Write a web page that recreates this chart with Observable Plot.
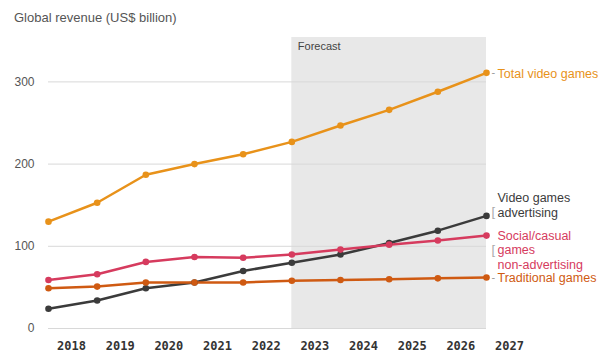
<!DOCTYPE html>
<html>
<head>
<meta charset="utf-8">
<script src="https://cdn.jsdelivr.net/npm/d3@7"></script>
<script src="https://cdn.jsdelivr.net/npm/@observablehq/plot@0.6"></script>
<style>
  html, body { margin: 0; padding: 0; background: #fff; }
  body { width: 598px; height: 354px; overflow: hidden; font-family: "Liberation Sans", Arial, sans-serif; }
  #title { height: 30px; box-sizing: border-box; padding: 9px 0 0 14px; line-height: 18px; font-size: 13px; color: #555; }
</style>
</head>
<body>
<div id="title">Global revenue (US$ billion)</div>
<div id="chart"></div>
<script>
const years = [2018, 2019, 2020, 2021, 2022, 2023, 2024, 2025, 2026, 2027];
const totalVideoGames = [130, 153, 187, 200, 212, 227, 247, 266, 288, 311];
const socialCasual = [59, 66, 81, 87, 86, 90, 96, 102, 107, 113];
const videoGamesAdvertising = [24, 34, 49, 56, 70, 80, 90, 104, 119, 137];
const traditionalGames = [49, 51, 56, 56, 56, 58, 59, 60, 61, 62];
const seriesNames = ["Total video games", "Video games advertising", "Social/casual games non-advertising", "Traditional games"];
const seriesLabels = ["Total video games", "Video games\nadvertising", "Social/casual\ngames\nnon-advertising", "Traditional games"];
const seriesColors = ["#e8921a", "#3b3b3b", "#d63b5e", "#cf5a12"];
const forecastStart = 2023;
const forecastEnd = 2027;
const yTicks = [0, 100, 200, 300];
const yMax = 354;

const seriesValues = [totalVideoGames, videoGamesAdvertising, socialCasual, traditionalGames];
const rows = [];
seriesNames.forEach((s, i) => years.forEach((yr, j) => rows.push({series: s, year: yr, value: seriesValues[i][j]})));
const lastRows = seriesNames.map((s, i) => ({series: s, label: seriesLabels[i], year: years[years.length - 1], value: seriesValues[i][years.length - 1]}));

const labelDy = [0, -11, 14, 0];
const labelMarks = lastRows.map((r, i) => Plot.text([r], {
  x: "year", y: "value", text: "label", fill: seriesColors[i],
  dx: 11, dy: labelDy[i], textAnchor: "start", lineAnchor: "middle",
  lineHeight: 1.18, fontSize: 12.5
}));
const dashMarks = [0, 3].map(i => Plot.text([lastRows[i]], {
  x: "year", y: "value", text: () => "-", fill: "#999", dx: 5, textAnchor: "start", fontSize: 11
}));
const bracketDy = [-4, 14];
const bracketMarks = [1, 2].map((i, k) => Plot.text([lastRows[i]], {
  x: "year", y: "value", text: () => "[", fill: "#aaa", dx: 5, dy: bracketDy[k], textAnchor: "start", fontSize: 13, fontWeight: 300
}));

const chart = Plot.plot({
  width: 598,
  height: 324,
  marginLeft: 48,
  marginRight: 112,
  marginTop: 7,
  marginBottom: 26,
  style: {fontFamily: "'Liberation Sans', Arial, sans-serif", background: "#fff"},
  x: {domain: [years[0], years[years.length - 1]], label: null},
  y: {domain: [0, yMax], label: null},
  color: {domain: seriesNames, range: seriesColors},
  marks: [
    Plot.rectY([{x1: forecastStart, x2: forecastEnd}], {x1: "x1", x2: "x2", y1: 0, y2: yMax, fill: "#e8e8e8"}),
    Plot.gridY({ticks: yTicks, stroke: "#d8d8d8", strokeOpacity: 1}),
    Plot.text(["Forecast"], {x: forecastStart, y: yMax, text: d => d, dx: 6, dy: 5, textAnchor: "start", lineAnchor: "top", fontSize: 11, fill: "#444"}),
    Plot.axisY({ticks: yTicks, tickSize: 0, tickPadding: 14, fontSize: 12, fill: "#555", label: null}),
    Plot.axisX({ticks: years, tickFormat: d => String(d), tickSize: 0, tickPadding: 13, dx: 23, fontSize: 12, fontWeight: "bold", fontFamily: "'DejaVu Sans Mono', monospace", fill: "#333", label: null}),
    Plot.line(rows, {x: "year", y: "value", z: "series", stroke: "series", strokeWidth: 2.5}),
    Plot.dot(rows, {x: "year", y: "value", fill: "series", r: 3.3}),
    ...dashMarks,
    ...bracketMarks,
    ...labelMarks
  ]
});
document.getElementById("chart").appendChild(chart);
</script>
</body>
</html>
